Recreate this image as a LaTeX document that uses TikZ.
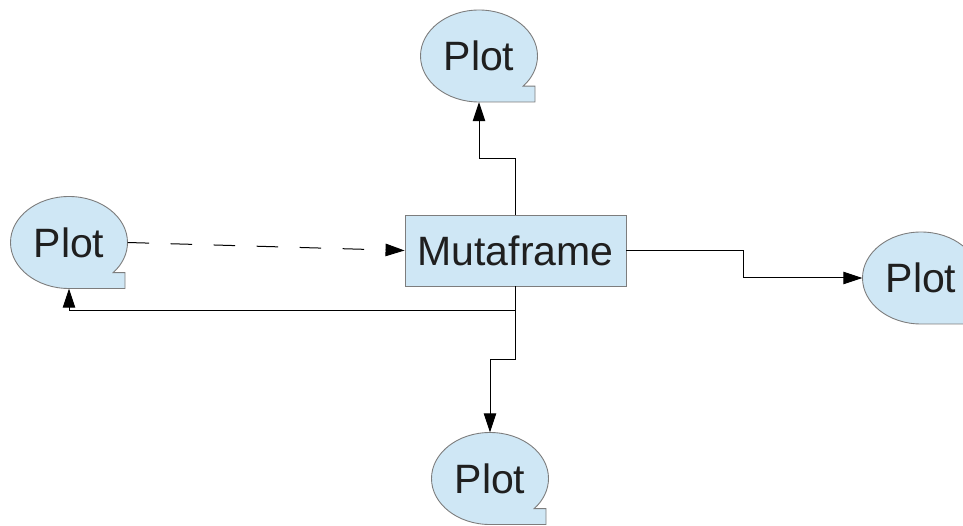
\documentclass[tikz,border=0pt]{standalone}
\usepackage{fontspec}
\setmainfont{Liberation Sans}
\usetikzlibrary{arrows.meta,shapes.geometric,calc}

\definecolor{paleblue}{RGB}{207,231,245}
\definecolor{outline}{RGB}{125,125,125}

\tikzset{
  conn/.style={draw=black, line width=1pt, -{Triangle[length=19pt,width=12.5pt]}},
  dashedconn/.style={conn, dash pattern=on 21.5pt off 21.5pt},
  bubble/.style={fill=paleblue, draw=outline, line width=0.9pt},
  plotlabel/.style={ellipse, minimum width=117pt, minimum height=92pt, inner sep=0pt,
    font=\fontsize{41}{49}\selectfont, text=black!88},
  framebox/.style={rectangle, fill=paleblue, draw=outline, line width=0.9pt,
    minimum width=221pt, minimum height=71pt, inner sep=0pt,
    font=\fontsize{41}{49}\selectfont, text=black!88}
}

% round callout: ellipse whose lower right quarter ends in a square tab
\newcommand\plotbubble[3]{%
  \path[bubble] ({#2},{#3+46}) arc[start angle=90, end angle=401, x radius=58.5, y radius=46]
    -- ({#2+56},{#3+30.18}) -- ({#2+56},{#3+46}) -- cycle;
  \node[plotlabel] (#1) at ({#2},{#3}) {Plot};
}

\begin{document}
\begin{tikzpicture}[x=1pt,y=-1pt]
  \useasboundingbox (0,0) rectangle (963,526);
  \clip (0,0) rectangle (963,526);

  \plotbubble{top}{479}{56}
  \plotbubble{left}{69}{242.5}
  \plotbubble{right}{921}{278}
  \plotbubble{bottom}{490}{478.5}

  \node[framebox] (mf) at (515.5,250.5) {Mutaframe};

  % levels of the elbow connectors
  \coordinate (upper) at (0,158.5);
  \coordinate (lowA) at (0,311);
  \coordinate (lowB) at (0,359);
  \coordinate (turn) at (743.5,0);

  \draw[conn] (mf.north) -- (mf.north |- upper) -| (top.south);
  \draw[dashedconn] (left.east) -- (mf.west);
  \draw[conn] (mf.south) -- (mf.south |- lowA) -| (left.south);
  \draw[conn] (mf.south) -- (mf.south |- lowB) -| (bottom.north);
  \draw[conn] (mf.east) -- (mf.east -| turn) -- (turn |- right.west) -- (right.west);
\end{tikzpicture}
\end{document}
